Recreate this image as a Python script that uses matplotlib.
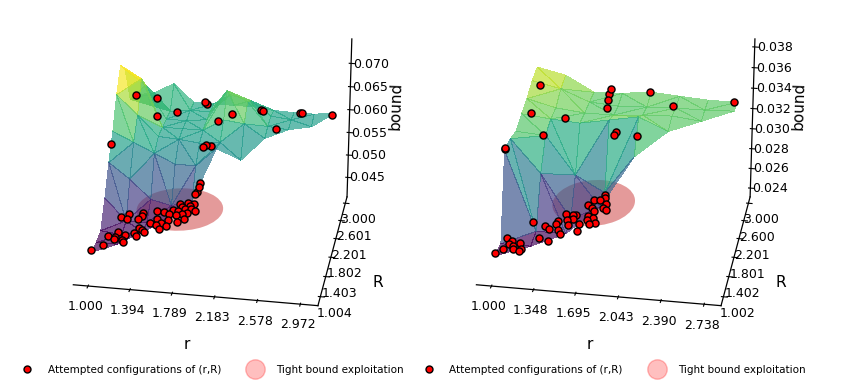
import matplotlib
matplotlib.use("Agg")
import matplotlib.pyplot as plt
from matplotlib.lines import Line2D
from matplotlib.patches import Ellipse
import mpl_toolkits.mplot3d.art3d as art3d

# ---- left panel data
r_grid_a = [1.0, 1.2, 1.4, 1.6, 1.8, 2.0, 2.2, 2.4, 2.6, 2.8, 3.0]
R_grid_a = [1.0, 1.2, 1.4, 1.6, 1.8, 2.0, 2.2, 2.4, 2.6, 2.8, 3.0]
bound_a = [
    [.046],
    [.046, .046],
    [.0465, .046, .047],
    [.0515, .047, .047, .048],
    [.0572, .054, .050, .049, .0505],
    [.062, .060, .058, .056, .056, .060],
    [.0680, .0640, .0598, .0595, .059, .0595, .056],
    [.0725, .0700, .060, .060, .060, .0625, .062, .0592],
    [.0700, .0670, .060, .060, .0605, .067, .065, .060, .0596],
    [.062, .061, .060, .0605, .0605, .0645, .0635, .0605, .060, .0588],
    [.0612, .062, .0643, .0605, .0605, .0605, .0605, .060, .0598, .0598, .0603],
]
pts_r_a = [1.0, 1.09, 1.09, 1.16, 1.16, 1.16, 1.25, 1.24, 1.245, 1.12, 1.19, 1.19, 1.32, 1.35, 1.34, 1.38, 1.41,
           1.29, 1.32, 1.315, 1.42, 1.435, 1.47, 1.48, 1.53, 1.52, 1.58, 1.51, 1.58, 1.56, 1.58, 1.635, 1.67, 1.62,
           1.66, 1.685, 1.72, 1.73, 1.70, 1.75, 1.795, 1.755, 1.73, 1.795, 1.80, 1.84, 1.835, 1.69, 1.63,
           1.0, 1.02, 1.23, 1.30, 1.47, 1.71, 1.73, 1.90, 2.01, 2.27, 2.29, 2.49, 2.66, 2.68, 2.98, 1.87, 1.90, 1.94]
pts_R_a = [1.0, 1.11, 1.31, 1.25, 1.29, 1.40, 1.21, 1.25, 1.36, 1.72, 1.69, 1.80, 1.40, 1.36, 1.51, 1.49, 1.44,
           1.70, 1.78, 1.84, 1.65, 1.91, 1.75, 1.62, 1.54, 1.67, 1.60, 1.89, 1.73, 1.86, 1.96, 1.86, 1.71, 2.10,
           2.03, 1.89, 1.78, 1.91, 2.13, 2.00, 1.98, 2.13, 2.07, 1.99, 2.04, 1.96, 2.03, 1.99, 1.95,
           1.9, 3.0, 3.0, 2.65, 2.8, 3.0, 3.0, 2.65, 2.85, 3.0, 3.0, 2.55, 3.0, 3.0, 3.0, 2.0, 2.02, 2.05]
pts_z_a = [.0465] * 43 + [.050, .050, .052, .052, .0465, .0465,
           .0603, .0612, .0610, .060, .060, .0608, .0604, .060, .060, .0598, .0598, .060, .0598, .0598, .060, .060, .0603, .060]
xticks_a = [1.000, 1.394, 1.789, 2.183, 2.578, 2.972]
yticks_a = [1.004, 1.403, 1.802, 2.201, 2.601, 3.000]
zticks_a = [.045, .050, .055, .060, .065, .070]
disk_a = (1.635, 2.04, 0.415, 0.47, .046)
colour_range_a = (.046, .0705)

# ---- right panel data
r_grid_b = [1.0, 1.25, 1.5, 1.75, 2.0, 2.25, 2.5, 2.75]
R_grid_b = [1.0, 1.25, 1.5, 1.75, 2.0, 2.25, 2.5, 2.75, 3.0]
bound_b = [
    [.0252],
    [.0252, .0252],
    [.0330, .0255, .0255],
    [.0331, .0300, .0258, .0272],
    [.0328, .0326, .0290, .0275, .0312],
    [.0335, .0332, .0330, .0335, .0340, .0328],
    [.0340, .0333, .0330, .0330, .0332, .0333, .0330],
    [.0348, .0342, .0331, .0329, .0330, .0331, .0331, .0332],
    [.0352, .0346, .0331, .0332, .0335, .0333, .0331, .0331],
]
pts_r_b = [1.0, 1.055, 1.04, 1.08, 1.09, 1.12, 1.13, 1.185, 1.20, 1.165, 1.19, 1.30, 1.305, 1.35, 1.38, 1.39, 1.39, 1.42,
           1.455, 1.43, 1.46, 1.485, 1.51, 1.495, 1.515, 1.58, 1.575, 1.62, 1.63, 1.655, 1.67, 1.705, 1.585, 1.61, 1.63, 1.65,
           1.67, 1.69, 1.70, 1.73, 1.72, 1.75,
           1.0, 1.0, 1.02, 1.05, 1.23, 1.36, 1.65, 1.63, 1.65, 1.66, 1.99, 2.22, 2.72, 1.83, 1.82, 2.01]
pts_R_b = [1.0, 1.08, 1.31, 1.19, 1.27, 1.17, 1.10, 1.08, 1.11, 1.24, 1.70, 1.375, 1.62, 1.57, 1.33, 1.76, 1.68, 1.57,
           1.49, 1.92, 1.78, 1.69, 1.81, 1.91, 1.92, 1.58, 1.72, 1.92, 1.82, 1.75, 1.87, 1.77, 2.15, 2.27, 2.08, 2.03,
           2.27, 2.40, 2.32, 2.19, 2.10, 2.08,
           1.52, 1.52, 3.0, 2.4, 2.0, 2.3, 3.0, 3.0, 2.85, 2.7, 3.0, 2.8, 3.0, 2.1, 2.05, 2.1]
pts_z_b = [.0255] * 42 + [.0332, .0331, .0335, .0330, .0326, .0332, .0335, .0330, .0330, .0328, .0335, .0331, .0331, .0330, .0329, .0328]
xticks_b = [1.000, 1.348, 1.695, 2.043, 2.390, 2.738]
yticks_b = [1.002, 1.402, 1.801, 2.201, 2.600, 3.000]
zticks_b = [.024, .026, .028, .030, .032, .034, .036, .038]
disk_b = (1.61, 2.28, 0.35, 0.52, .0252)
colour_range_b = (.0252, .0358)

xlim_a, ylim_a, zlim_a = (0.861, 3.133), (0.83, 3.15), (0.0406, 0.0752)
xlim_b, ylim_b, zlim_b = (0.875, 2.874), (0.83, 3.15), (0.0231, 0.03877)
LEGEND_POINTS = "Attempted configurations of (r,R)"
LEGEND_DISK = "Tight bound exploitation"

fig = plt.figure(figsize=(8.44, 3.81), dpi=100)


def panel(rect, rg, Rg, table, pr, pR, pz, xt, yt, zt, disk, xl, yl, zl, crange):
    ax = fig.add_axes(rect, projection="3d", computed_zorder=False)
    ax.view_init(elev=25, azim=-80)
    sr, sR, sz = [], [], []
    for j, row in enumerate(table):
        for i, v in enumerate(row):
            sr.append(rg[i]); sR.append(Rg[j]); sz.append(v)
    c = Ellipse((disk[0], disk[1]), 2 * disk[2], 2 * disk[3], color="#c01010", alpha=0.42, lw=0)
    ax.add_patch(c)
    art3d.pathpatch_2d_to_3d(c, z=disk[4], zdir="z")
    c.set_zorder(1)
    ax.plot_trisurf(sr, sR, sz, cmap="viridis", vmin=crange[0], vmax=crange[1], linewidth=0, alpha=0.68,
                    antialiased=False, zorder=2, shade=False)
    ax.scatter(pr, pR, pz, s=26, c="red", edgecolors="black", linewidths=1, depthshade=False, zorder=5)
    ax.set_xlim(*xl); ax.set_ylim(*yl); ax.set_zlim(*zl)
    ax.set_xticks(xt); ax.set_yticks(yt); ax.set_zticks(zt)
    ax.set_xticklabels([f"{v:.3f}" for v in xt])
    ax.set_yticklabels([f"{v:.3f}" for v in yt])
    ax.set_zticklabels([f"{v:.3f}" for v in zt])
    ax.tick_params(labelsize=9, pad=0)
    ax.tick_params(axis="x", pad=-1)
    ax.tick_params(axis="z", pad=3)
    ax.set_xlabel("r", fontsize=11, labelpad=3)
    ax.set_ylabel("R", fontsize=11, labelpad=6)
    ax.set_zlabel("bound", fontsize=11, labelpad=5)
    ax.grid(False)
    for a in (ax.xaxis, ax.yaxis, ax.zaxis):
        a.set_pane_color((1, 1, 1, 0))
        a.pane.set_edgecolor((1, 1, 1, 0))
        a.line.set_color("black")
        a.line.set_linewidth(0.9)
    return ax


panel([0.0, 0.08, 0.5, 0.98], r_grid_a, R_grid_a, bound_a, pts_r_a, pts_R_a, pts_z_a,
      xticks_a, yticks_a, zticks_a, disk_a, xlim_a, ylim_a, zlim_a, colour_range_a)
panel([0.4776, 0.08, 0.5, 0.98], r_grid_b, R_grid_b, bound_b, pts_r_b, pts_R_b, pts_z_b,
      xticks_b, yticks_b, zticks_b, disk_b, xlim_b, ylim_b, zlim_b, colour_range_b)

for cx in (0.249, 0.725):
    handles = [Line2D([], [], ls="", marker="o", mfc="red", mec="black", ms=5),
               Line2D([], [], ls="", marker="o", mfc="red", mec="red", ms=14, alpha=0.25)]
    fig.legend(handles, [LEGEND_POINTS, LEGEND_DISK], loc="center", bbox_to_anchor=(cx, 0.03), ncol=2,
               frameon=False, fontsize=7.5, columnspacing=2.3, handletextpad=1.0)

fig.savefig("out.png", dpi=100)
